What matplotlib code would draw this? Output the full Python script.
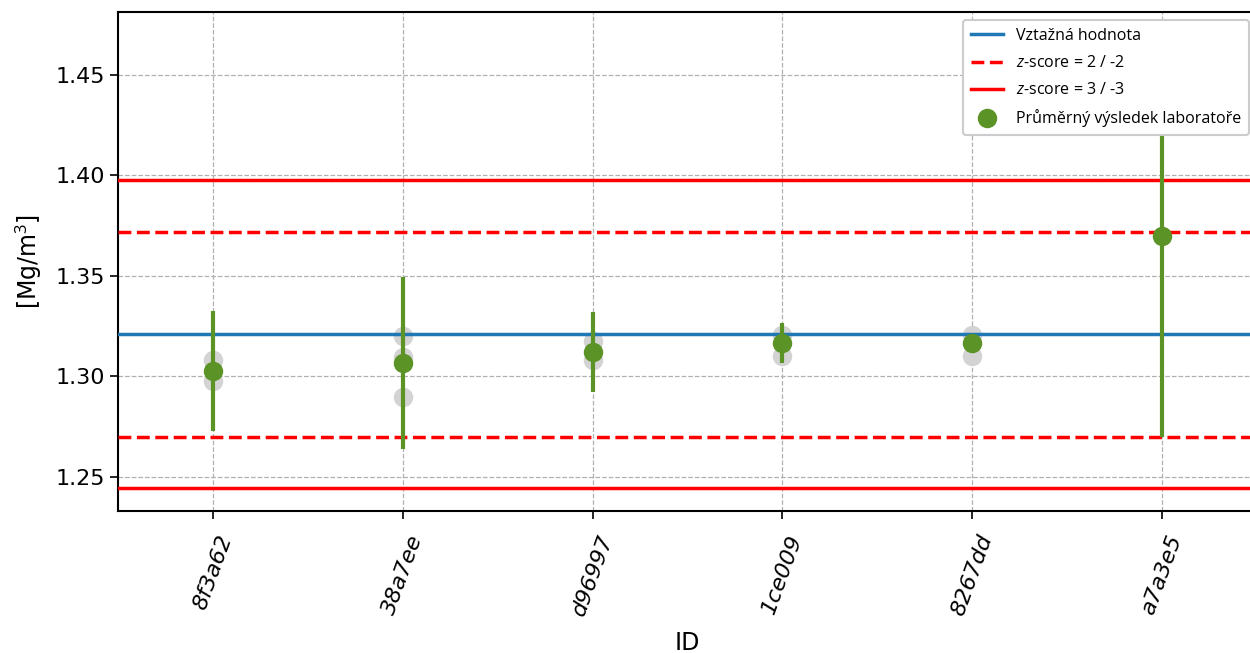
import numpy as np
import matplotlib
matplotlib.use('Agg')
import matplotlib.pyplot as plt

# data
labs = ['8f3a62', '38a7ee', 'd96997', '1ce009', '8267dd', 'a7a3e5']
lab_mean = [1.3027, 1.3067, 1.3122, 1.3167, 1.3167, 1.3699]
lab_err = [0.0298, 0.0430, 0.0200, 0.0100, 0.0, 0.1000]
single_vals = [
    [1.3082, 1.2978],
    [1.3201, 1.3097, 1.2898],
    [1.3177, 1.3082],
    [1.3206, 1.3102],
    [1.3206, 1.3102],
    [],
]
ref_value = 1.3211
sigma = 0.0255

plt.rcParams['mathtext.fontset'] = 'custom'
plt.rcParams['mathtext.it'] = 'Open Sans:italic'
plt.rcParams['mathtext.rm'] = 'Open Sans'

fig = plt.figure(figsize=(12.5, 6.53), dpi=100)
ax = fig.add_axes([0.0944, 0.2175, 0.9112, 0.7641])

x = np.arange(len(labs))

for i, vals in enumerate(single_vals):
    ax.plot([x[i]] * len(vals), vals, 'o', color='lightgray', markersize=13, zorder=2)

ax.axhline(ref_value, color='#1f77b4', lw=2.5, label='Vztažná hodnota', zorder=3)
ax.axhline(ref_value + 2 * sigma, color='red', lw=2.5, ls='--', label='$z$-score = 2 / -2', zorder=3)
ax.axhline(ref_value - 2 * sigma, color='red', lw=2.5, ls='--', zorder=3)
ax.axhline(ref_value + 3 * sigma, color='red', lw=2.5, label='$z$-score = 3 / -3', zorder=3)
ax.axhline(ref_value - 3 * sigma, color='red', lw=2.5, zorder=3)

ax.errorbar(x, lab_mean, yerr=lab_err, fmt='o', color='#5b9326', markersize=13,
            elinewidth=3, capsize=0, label='Průměrný výsledek laboratoře', zorder=4)

ax.set_xlim(-0.5, 5.5)
ax.set_ylim(1.2331, 1.4813)
ax.set_yticks([1.25, 1.30, 1.35, 1.40, 1.45])
ax.set_xticks(x)
ax.set_xticklabels(labs, rotation=70, fontstyle='italic', fontsize=16)
ax.tick_params(axis='y', labelsize=16, length=6, width=1.2)
ax.tick_params(axis='x', length=6, width=1.2, pad=9)
for s in ax.spines.values():
    s.set_linewidth(1.5)

ax.grid(True, ls='--', color='#b0b0b0', lw=0.9)
ax.set_axisbelow(True)
ax.set_xlabel('ID', fontsize=17, labelpad=9)
ax.set_ylabel('[Mg/m$^3$]', fontsize=17, labelpad=8)

leg = ax.legend(loc='upper right', prop={'family': 'Open Sans', 'size': 11.5},
                framealpha=1, edgecolor='#cccccc', borderpad=0.5, labelspacing=0.7)
leg.get_frame().set_linewidth(1.5)

fig.savefig('out.png', dpi=100)
